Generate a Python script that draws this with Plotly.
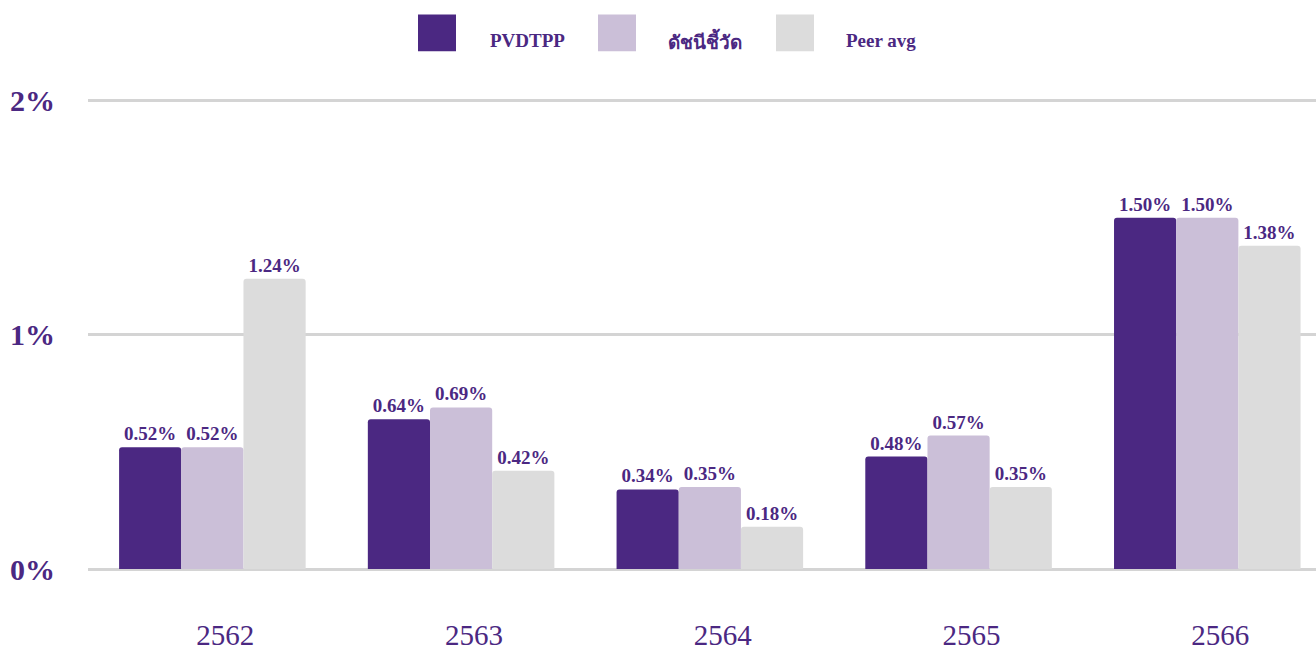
import plotly.graph_objects as go

years = ["2562", "2563", "2564", "2565", "2566"]
series_names = ["PVDTPP", "ดัชนีชี้วัด", "Peer avg"]
pvdtpp = [0.52, 0.64, 0.34, 0.48, 1.50]
benchmark = [0.52, 0.69, 0.35, 0.57, 1.50]
peer_avg = [1.24, 0.42, 0.18, 0.35, 1.38]
colors = ["#4b2882", "#cbbfd8", "#dcdcdc"]
ytick_vals = [0, 1, 2]
ytick_text = ["0%", "1%", "2%"]

TXT = "#4b2882"
SERIF = "Liberation Serif, Times New Roman, serif"

W, H = 1316, 651
ML, MT, MB = 88, 96, 79
PW = W - ML
PH = H - MT - MB

fig = go.Figure()
for name, vals, c in zip(series_names, [pvdtpp, benchmark, peer_avg], colors):
    fig.add_trace(go.Bar(
        x=years, y=vals, name=name, marker=dict(color=c, line=dict(width=0)),
        texttemplate="<b>%{y:.2f}%</b>", textposition="outside",
        textfont=dict(family=SERIF, size=19, color=TXT),
        cliponaxis=False, showlegend=False,
    ))

# manual legend (large squares), positions in window pixels
sq_x = [418, 598, 776]
tx_x = [527, 705, 881]

def px_x(x):
    return (x - ML) / PW

def px_y(y):
    return (H - MB - y) / PH

for i, name in enumerate(series_names):
    fig.add_shape(type="rect", xref="paper", yref="paper",
                  x0=px_x(sq_x[i]), x1=px_x(sq_x[i] + 38),
                  y0=px_y(51), y1=px_y(14),
                  fillcolor=colors[i], line=dict(width=0))
    fig.add_annotation(xref="paper", yref="paper",
                       x=px_x(tx_x[i]), y=px_y(40),
                       text="<b>" + name + "</b>", showarrow=False,
                       font=dict(family=SERIF, size=19, color=TXT),
                       xanchor="center", yanchor="middle")

fig.update_layout(
    width=W, height=H,
    margin=dict(l=ML, r=0, t=MT, b=MB, pad=0),
    paper_bgcolor="white", plot_bgcolor="white",
    barmode="group", bargap=0.25, bargroupgap=0,
    barcornerradius=3,
    xaxis=dict(range=[-0.5, 4.437], showgrid=False, showline=False, zeroline=False,
               tickfont=dict(family=SERIF, size=29, color=TXT),
               ticks="", ticklabelstandoff=46, ticklabelshift=13),
    yaxis=dict(range=[0, 2.02], tickvals=ytick_vals, ticktext=["<b>" + t + "</b>" for t in ytick_text],
               tickfont=dict(family=SERIF, size=30, color=TXT),
               showgrid=True, gridcolor="#d4d4d4", gridwidth=3,
               zeroline=True, zerolinecolor="#d4d4d4", zerolinewidth=3,
               showline=False, ticks="", ticklabelstandoff=32),
)

fig.write_html("out.html", config={"displayModeBar": False},
               post_script="document.body.style.margin='0';document.body.style.overflow='hidden';")
